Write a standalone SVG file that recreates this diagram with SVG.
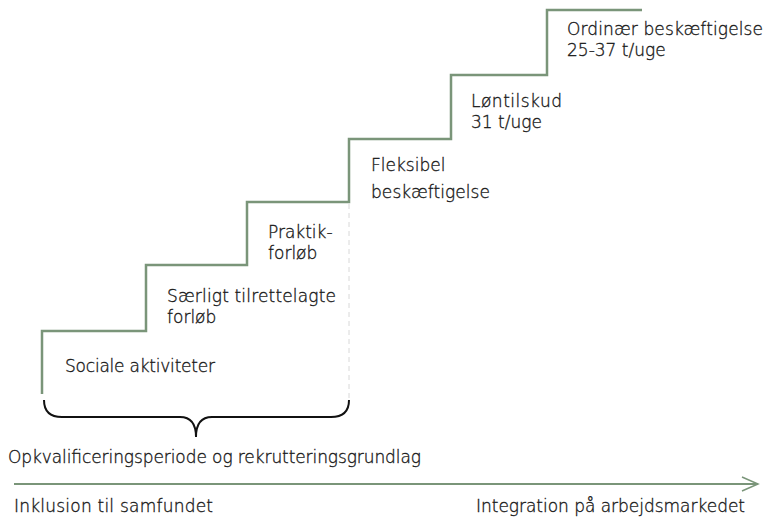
<svg xmlns="http://www.w3.org/2000/svg" width="767" height="518" viewBox="0 0 767 518">
<style>
text{font-family:"DejaVu Sans","Liberation Sans",sans-serif;font-size:17px;font-weight:300;fill:#1a1a1a;stroke:#1a1a1a;stroke-width:0.35;lengthAdjust:spacing;}
.step{fill:none;stroke:#7a9579;stroke-width:2.5;}
.dash{fill:none;stroke:#d8d8d8;stroke-width:1;stroke-dasharray:5 4;}
.brace{fill:none;stroke:#111;stroke-width:2;}
.axis{fill:none;stroke:#7a9579;stroke-width:2;}
</style>
<defs>
<marker id="chev" markerWidth="20" markerHeight="20" refX="17" refY="8" orient="auto" markerUnits="userSpaceOnUse">
<path d="M1,1 L17,8 L1,15" fill="none" stroke="#7a9579" stroke-width="1.5"/>
</marker>
</defs>
<g id="connectors">
<path class="step" d="M42,394 V331 H146 V265 H247 V202 H349 V139 H451 V75 H547 V10 H642"/>
<path class="dash" d="M349,204 V402"/>
<path class="brace" d="M44,400 Q44,417 62,417 H180 Q196,417 196,437 Q196,417 212,417 H331 Q349,417 349,400"/>
<path class="axis" d="M14,484 H758" marker-end="url(#chev)"/>
</g>
<g id="sociale"><text x="65" y="372" textLength="150">Sociale aktiviteter</text></g>
<g id="saerligt"><text x="167" y="302" textLength="169">Særligt tilrettelagte</text><text x="167" y="323">forløb</text></g>
<g id="praktik"><text x="268" y="238">Praktik-</text><text x="268" y="259">forløb</text></g>
<g id="fleksibel"><text x="371" y="171">Fleksibel</text><text x="371" y="198" textLength="119">beskæftigelse</text></g>
<g id="lontilskud"><text x="471" y="107" textLength="91">Løntilskud</text><text x="471" y="128">31 t/uge</text></g>
<g id="ordinaer"><text x="567" y="35" textLength="196">Ordinær beskæftigelse</text><text x="567" y="56">25-37 t/uge</text></g>
<g id="brace-label"><text x="8" y="463" textLength="413">Opkvalificeringsperiode og rekrutteringsgrundlag</text></g>
<g id="axis-labels"><text x="14" y="512" textLength="199">Inklusion til samfundet</text><text x="476" y="512" textLength="269">Integration på arbejdsmarkedet</text></g>
</svg>
